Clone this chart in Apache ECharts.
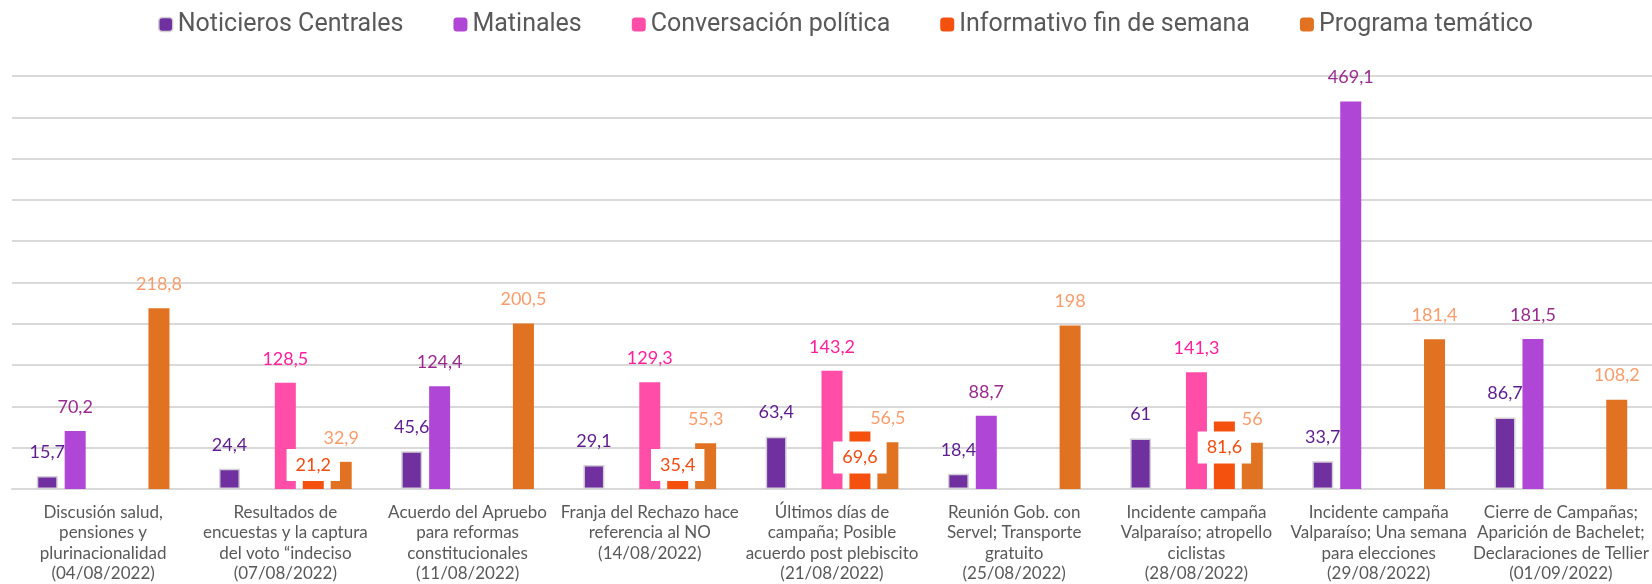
<!DOCTYPE html>
<html lang="es">
<head>
    <meta charset="UTF-8">
    <title>Tiempo por programa</title>
    <script src="https://cdn.jsdelivr.net/npm/echarts@6/dist/echarts.min.js"></script>
</head>
<style>
    body {
        margin: 0;
        padding: 0;
        background: #ffffff;
    }
    #main{
        width: 1652px;
        height: 584px;
    }
</style>
<body>
<div id="main"></div>
<script type="text/javascript">
    // categorías (eje X)
    var categorias = [
        'Discusión salud,\npensiones y\nplurinacionalidad\n(04/08/2022)',
        'Resultados de\nencuestas y la captura\ndel voto “indeciso\n(07/08/2022)',
        'Acuerdo del Apruebo\npara reformas\nconstitucionales\n(11/08/2022)',
        'Franja del Rechazo hace\nreferencia al NO\n(14/08/2022)',
        'Últimos días de\ncampaña; Posible\nacuerdo post plebiscito\n(21/08/2022)',
        'Reunión Gob. con\nServel; Transporte\ngratuito\n(25/08/2022)',
        'Incidente campaña\nValparaíso; atropello\nciclistas\n(28/08/2022)',
        'Incidente campaña\nValparaíso; Una semana\npara elecciones\n(29/08/2022)',
        'Cierre de Campañas;\nAparición de Bachelet;\nDeclaraciones de Tellier\n(01/09/2022)'
    ];
    var noticieros   = [15.7, 24.4, 45.6, 29.1, 63.4, 18.4, 61, 33.7, 86.7];
    var matinales    = [70.2, null, 124.4, null, null, 88.7, null, 469.1, 181.5];
    var conversacion = [null, 128.5, null, 129.3, 143.2, null, 141.3, null, null];
    var informativo  = [null, 21.2, null, 35.4, 69.6, null, 81.6, null, null];
    var tematico     = [218.8, 32.9, 200.5, 55.3, 56.5, 198, 56, 181.4, 108.2];

    var myChart = echarts.init(document.getElementById('main'));

    function coma(p) {
        return String(p.value).replace('.', ',');
    }
    function etiqueta(color) {
        return {
            show: true,
            position: 'top',
            distance: 14,
            formatter: coma,
            color: color,
            fontFamily: 'Lato',
            fontSize: 18,
            lineHeight: 20
        };
    }
    function serie(nombre, datos, color, colorLabel) {
        return {
            name: nombre,
            type: 'bar',
            data: datos,
            barWidth: 21,
            barGap: '33%',
            itemStyle: { color: color },
            label: etiqueta(colorLabel)
        };
    }

    var sNotic = serie('Noticieros Centrales', noticieros, '#7030A0', '#5E1C8F');
    sNotic.itemStyle.borderColor = '#D3D0D6';
    sNotic.itemStyle.borderWidth = 1.5;
    var sInfo = serie('Informativo fin de semana', informativo, '#F4510F', '#F24C12');
    sInfo.label.backgroundColor = '#ffffff';
    sInfo.label.padding = [6, 9];
    // la etiqueta va dentro de la barra, sin pasar bajo el eje
    sInfo.labelLayout = function (p) {
        var r = p.rect;
        return {
            x: r.x + r.width / 2,
            y: Math.min(r.y + 26, r.y + r.height - 24),
            align: 'center',
            verticalAlign: 'middle'
        };
    };

    option = {
        animation: false,
        legend: {
            top: 7,
            left: 153,
            itemWidth: 14,
            itemHeight: 14,
            itemGap: 50,
            textStyle: { fontFamily: 'Roboto', fontSize: 25, color: '#595959' },
            data: [
                { name: 'Noticieros Centrales', itemStyle: { borderColor: '#D3D0D6', borderWidth: 1.5 } },
                'Matinales', 'Conversación política', 'Informativo fin de semana', 'Programa temático'
            ]
        },
        grid: { left: 12, right: -7, top: 76, bottom: 93 },
        xAxis: {
            type: 'category',
            data: categorias,
            axisTick: { show: false },
            axisLine: { lineStyle: { color: '#D9D9D9', width: 2 } },
            axisLabel: {
                interval: 0,
                margin: 13,
                fontFamily: 'Lato',
                fontSize: 17,
                lineHeight: 20.5,
                color: '#595959'
            }
        },
        yAxis: {
            type: 'value',
            min: 0,
            max: 500,
            interval: 50,
            axisLabel: { show: false },
            axisLine: { show: false },
            axisTick: { show: false },
            splitLine: { lineStyle: { color: '#D9D9D9', width: 2 } }
        },
        series: [
            sNotic,
            serie('Matinales', matinales, '#B046D6', '#9A2B8E'),
            serie('Conversación política', conversacion, '#FF4DA8', '#FF1E9B'),
            sInfo,
            serie('Programa temático', tematico, '#E07221', '#F89C6C')
        ]
    };

    myChart.setOption(option);
</script>
</body>
</html>
